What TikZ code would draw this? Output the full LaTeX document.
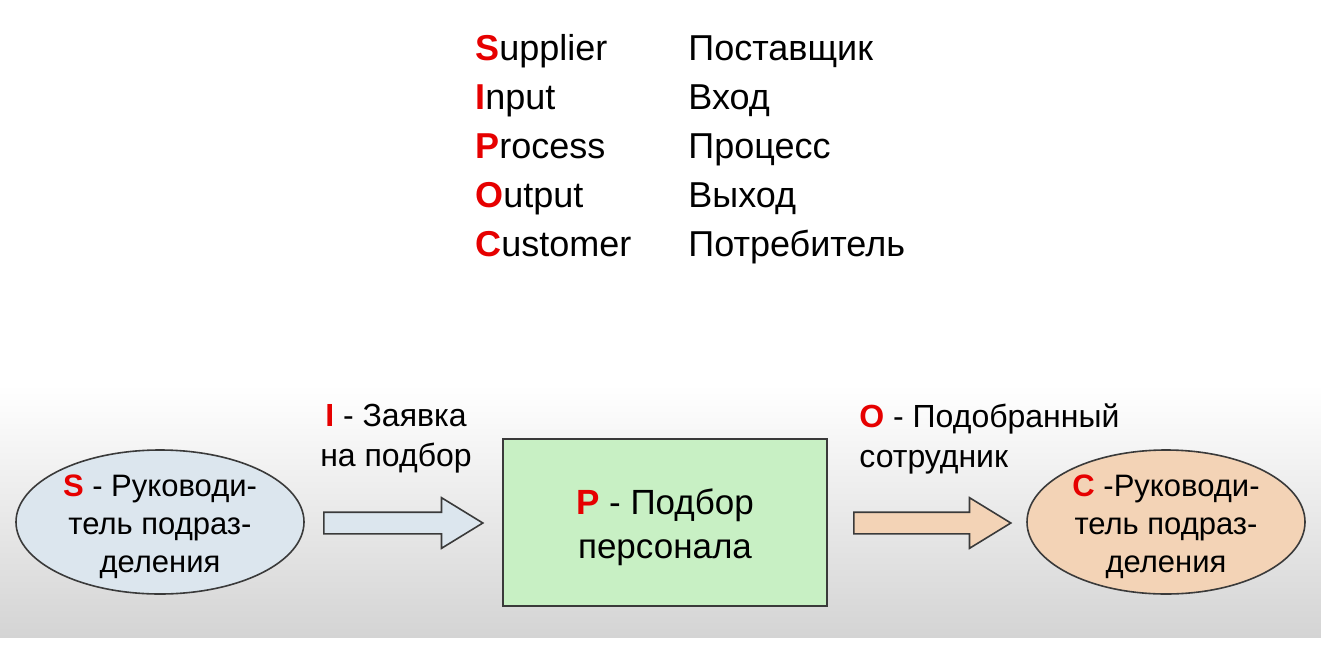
\documentclass[tikz,border=0pt]{standalone}
\usepackage{fontspec}
\setmainfont{Liberation Sans}
\usetikzlibrary{shapes.geometric,shapes.arrows}
\definecolor{redl}{HTML}{E60000}
\definecolor{sfill}{HTML}{DCE6EE}
\definecolor{pfill}{HTML}{C8F0C4}
\definecolor{cfill}{HTML}{F3D3B6}
\definecolor{edge}{HTML}{3A3A3A}
\definecolor{bgbot}{HTML}{D4D4D4}
\newcommand{\rl}[1]{\textcolor{redl}{\textbf{#1}}}
\tikzset{
  x=0.5pt, y=-0.5pt,
  listtxt/.style={anchor=base west, inner sep=0pt, font=\fontsize{18}{22}\selectfont},
  ovalnode/.style={ellipse, draw=edge, line width=0.8pt, inner sep=0pt},
  ovaltxt/.style={inner sep=0pt, align=center, font=\fontsize{15.5}{19}\selectfont},
  lbl/.style={inner sep=0pt, font=\fontsize{16}{20}\selectfont},
  blockarrow/.style={single arrow, draw=edge, line width=0.8pt, inner xsep=0pt, inner ysep=5pt,
     minimum width=24.5pt, single arrow head extend=7.25pt, single arrow tip angle=63, anchor=west}
}
\begin{document}
\begin{tikzpicture}
\useasboundingbox (0,0) rectangle (1321,648);
\fill[white] (0,0) rectangle (1321,648);
\shade[top color=white, bottom color=bgbot] (0,385) rectangle (1321,637);
% list
\node[listtxt] (l1) at (475,60) {\rl{S}upplier};
\node[listtxt] (l2) at (475,109) {\rl{I}nput};
\node[listtxt] (l3) at (475,158) {\rl{P}rocess};
\node[listtxt] (l4) at (475,207) {\rl{O}utput};
\node[listtxt] (l5) at (475,256) {\rl{C}ustomer};
\node[listtxt] (r1) at (688,60) {Поставщик};
\node[listtxt] (r2) at (688,109) {Вход};
\node[listtxt] (r3) at (688,158) {Процесс};
\node[listtxt] (r4) at (688,207) {Выход};
\node[listtxt] (r5) at (688,256) {Потребитель};
% nodes
\node[ovalnode, fill=sfill, minimum width=144pt, minimum height=72pt] (S) at (160,522) {};
\node[ovaltxt] (St) at (160,527) {\rl{S} - Руководи-\\тель подраз-\\деления};
\node[draw=edge, line width=1pt, fill=pfill, minimum width=162pt, minimum height=83.5pt,
  inner sep=0pt] (P) at (665,522.5) {};
\node[align=center, inner sep=0pt, font=\fontsize{17.5}{22}\selectfont] (Pt) at (665,527)
  {\rl{P} - Подбор\\персонала};
\node[ovalnode, fill=cfill, minimum width=139pt, minimum height=72pt] (C) at (1166,522) {};
\node[ovaltxt] (Ct) at (1166,527) {\rl{C} -Руководи-\\тель подраз-\\деления};
% arrows
\coordinate (a1) at (323,523);
\coordinate (a2) at (853,523);
\node[blockarrow, fill=sfill, minimum height=79.5pt] (IA) at (a1) {};
\node[blockarrow, fill=cfill, minimum height=78.5pt] (OA) at (a2) {};
% labels
\node[lbl, align=center] (IL) at (396,439) {\rl{I} - Заявка\\на подбор};
\node[lbl, align=left, anchor=west] (OL) at (859,439) {\rl{O} - Подобранный\\сотрудник};
\end{tikzpicture}
\end{document}
